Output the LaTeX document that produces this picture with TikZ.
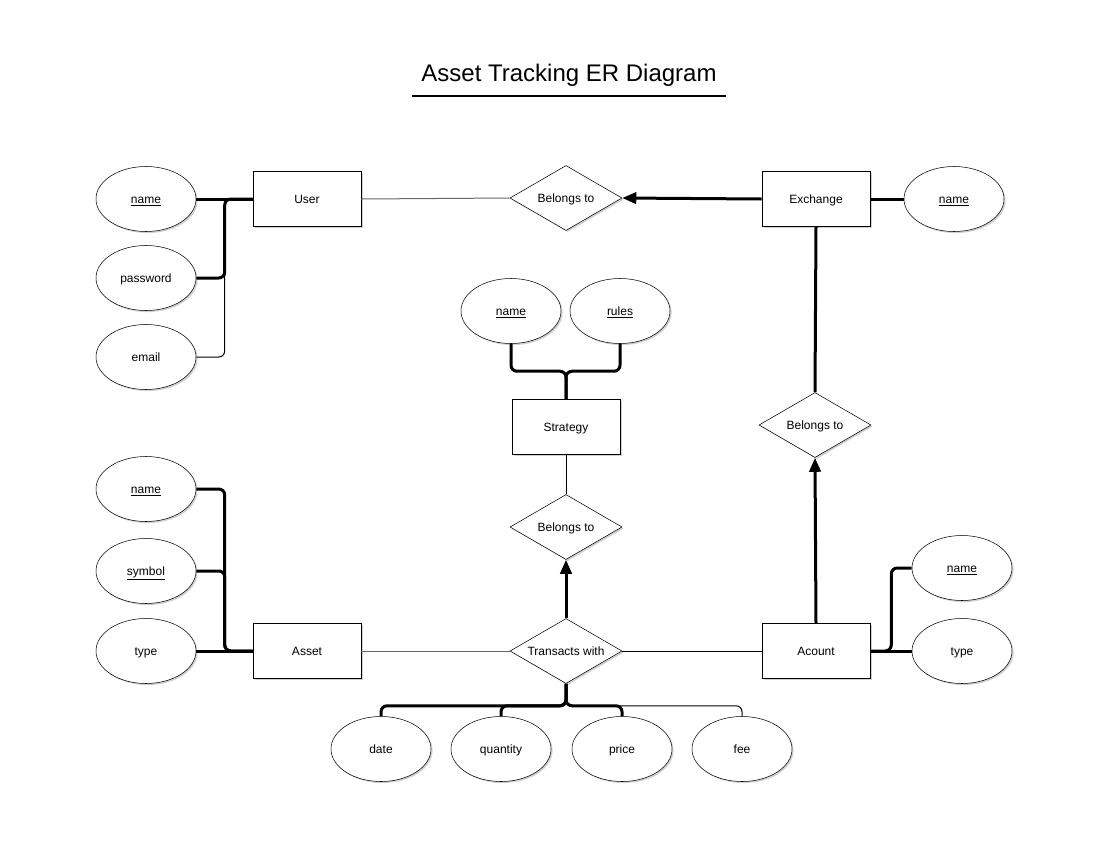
\documentclass[tikz,border=0pt]{standalone}
\usepackage{fontspec}
\setmainfont{Liberation Sans}
\usetikzlibrary{shapes.geometric,arrows.meta,calc,shadows}

\tikzset{
  lifted/.style={drop shadow={shadow xshift=1.2pt,shadow yshift=-1.2pt,opacity=0.18,fill=black}},
  label font/.style={font=\fontsize{9}{11}\selectfont,text height=8pt,text depth=1.4pt},
  attr/.style={ellipse,draw,fill=white,lifted,minimum width=75pt,minimum height=48.75pt,inner sep=0pt,label font},
  entity/.style={rectangle,draw,fill=white,lifted,minimum width=81pt,minimum height=41.25pt,inner sep=0pt,label font},
  relation/.style={diamond,draw,fill=white,lifted,aspect=1.72,minimum width=84pt,minimum height=48.75pt,inner sep=0pt,label font},
  heavy/.style={line width=2.25pt,rounded corners=4.5pt},
  light/.style={line width=0.75pt,rounded corners=4.5pt},
  faint/.style={line width=0.75pt,draw=black!60},
  tip/.style={-{Triangle[length=10.5pt,width=8.5pt]}},
}

\begin{document}
\begin{tikzpicture}[x=0.75pt,y=0.75pt,yscale=-1,xscale=1]
\path[use as bounding box] (0,0) rectangle (1111,861);

% Title
\node[minimum width=234.75pt,minimum height=31.5pt,inner sep=0pt,font=\fontsize{18}{22}\selectfont] (title) at (569,75) {Asset Tracking ER Diagram};
\draw[line width=1.5pt] (title.south west) -- (title.south east);

% User and its attributes
\node[entity] (user) at (307,199) {User};
\node[attr] (uname) at (146,199) {\underline{name}};
\node[attr] (upass) at (146,278) {password};
\node[attr] (umail) at (146,357) {email};

% Exchange
\node[entity] (exch) at (816,199) {Exchange};
\node[attr] (xname) at (954,199) {\underline{name}};
\node[relation] (btop) at (566,198) {Belongs to};

% Strategy
\node[attr] (sname) at (511,311) {\underline{name}};
\node[attr] (srule) at (620,311) {\underline{rules}};
\node[entity] (strat) at (566,427) {Strategy};
\node[relation] (bmid) at (566,527) {Belongs to};
\node[relation] (bright) at (815,425) {Belongs to};

% Asset
\node[attr] (aname) at (146,489) {\underline{name}};
\node[attr] (asym) at (146,571) {\underline{symbol}};
\node[attr] (atype) at (146,651) {type};
\node[entity] (asset) at (307,651) {Asset};

% Transactions and account
\node[relation] (trans) at (566,651) {Transacts with};
\node[entity] (acct) at (816,651) {Acount};
\node[attr] (cname) at (962,568) {\underline{name}};
\node[attr] (ctype) at (962,651) {type};
\node[attr] (date) at (381,749) {date};
\node[attr] (qty) at (501,749) {quantity};
\node[attr] (price) at (622,749) {price};
\node[attr] (fee) at (742,749) {fee};

% user links
\draw[light] (umail.east) -| ($(user.west)+(-28,0)$);
\draw[heavy] (upass.east) -| ($(user.west)+(-28,0)$) -- (user.west);
\draw[heavy] (uname) -- (user);
\draw[faint] (user.east) -- (btop.west);

% exchange links
\draw[heavy,tip] (exch.west) -- (btop.east);
\draw[heavy] (exch) -- (xname);
\draw[heavy] (exch.south) -- (bright.north);
\draw[heavy,tip] (acct.north) -- (bright.south);

% strategy links
\draw[heavy] (sname.south) |- ($(strat.north)+(0,-28)$) -- (strat.north);
\draw[heavy] (srule.south) |- ($(strat.north)+(0,-28)$) -- (strat.north);
\draw[light] (strat.south) -- (bmid.north);
\draw[heavy,tip] (trans.north) -- (bmid.south);

% asset links
\draw[heavy] (aname.east) -| ($(asset.west)+(-28,0)$) -- (asset.west);
\draw[heavy] (asym.east) -| ($(asset.west)+(-28,0)$) -- (asset.west);
\draw[heavy] (atype) -- (asset);
\draw[faint] (asset.east) -- (trans.west);
\draw[light] (trans.east) -- (acct.west);

% account links
\draw[heavy] (acct.east) -- ($(acct.east)+(21,0)$) |- (cname.west);
\draw[heavy] (acct) -- (ctype);

% transaction attributes
\draw[light] (trans.south) -- ++(0,22) -| (fee.north);
\draw[heavy] (trans.south) -- ++(0,22) -| (date.north);
\draw[heavy] (trans.south) -- ++(0,22) -| (qty.north);
\draw[heavy] (trans.south) -- ++(0,22) -| (price.north);

\end{tikzpicture}
\end{document}
